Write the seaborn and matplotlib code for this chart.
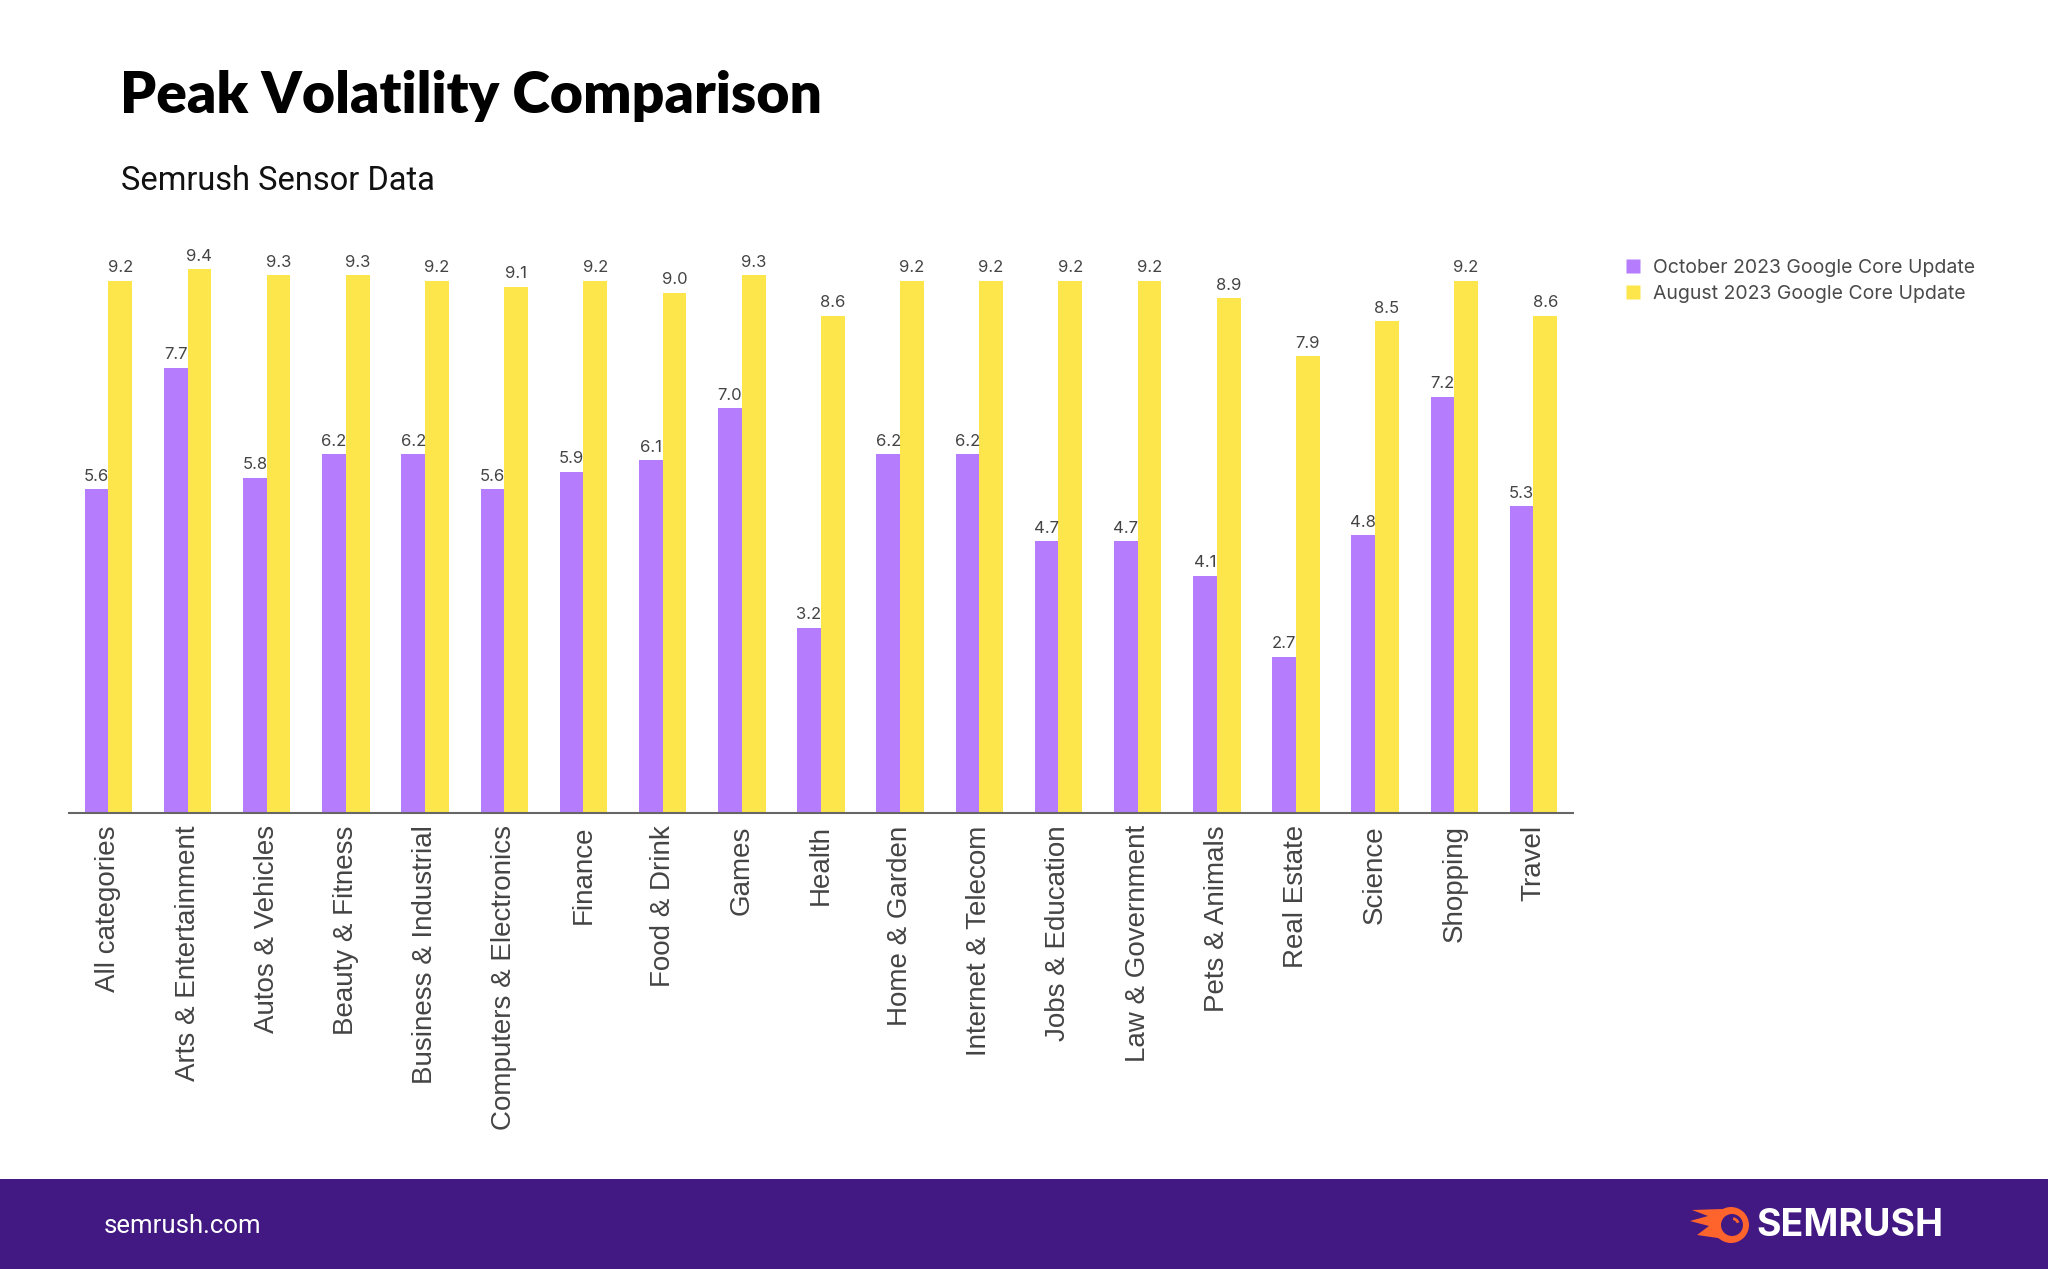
import matplotlib
matplotlib.use("Agg")
import matplotlib.pyplot as plt
from matplotlib.lines import Line2D
from matplotlib.patches import Rectangle, Circle, Polygon, Arc
from matplotlib.transforms import IdentityTransform
import seaborn as sns
import pandas as pd

# data
categories = ["All categories", "Arts & Entertainment", "Autos & Vehicles", "Beauty & Fitness",
              "Business & Industrial", "Computers & Electronics", "Finance", "Food & Drink",
              "Games", "Health", "Home & Garden", "Internet & Telecom", "Jobs & Education",
              "Law & Government", "Pets & Animals", "Real Estate", "Science", "Shopping", "Travel"]
october = [5.6, 7.7, 5.8, 6.2, 6.2, 5.6, 5.9, 6.1, 7.0, 3.2, 6.2, 6.2, 4.7, 4.7, 4.1, 2.7, 4.8, 7.2, 5.3]
august = [9.2, 9.4, 9.3, 9.3, 9.2, 9.1, 9.2, 9.0, 9.3, 8.6, 9.2, 9.2, 9.2, 9.2, 8.9, 7.9, 8.5, 9.2, 8.6]
series_names = ["October 2023 Google Core Update", "August 2023 Google Core Update"]

PURPLE = "#B57CFD"
YELLOW = "#FDE64B"
FOOTER = "#421983"
ORANGE = "#FF642D"

df = pd.DataFrame({
    "category": categories * 2,
    "value": october + august,
    "series": [series_names[0]] * len(categories) + [series_names[1]] * len(categories),
})

sns.set_style("white")
plt.rcParams["font.family"] = ["Inter", "DejaVu Sans"]

fig = plt.figure(figsize=(20.48, 12.69), dpi=100)
ax = fig.add_axes([0.0336, 0.3595, 0.7345, 0.4555])

sns.barplot(data=df, x="category", y="value", hue="series",
            palette=[PURPLE, YELLOW], width=0.6, gap=0, saturation=1,
            edgecolor="none", linewidth=0, legend=False, ax=ax)

for cont in ax.containers:
    ax.bar_label(cont, fmt="%.1f", padding=4, fontsize=12, color="#444444")

ax.set_ylim(0, 10)
ax.set_xlim(-0.5, len(categories) - 0.5)
ax.set_xlabel("")
ax.set_ylabel("")
ax.set_yticks([])
for s in ["top", "right", "left"]:
    ax.spines[s].set_visible(False)
ax.spines["bottom"].set_color("#666666")
ax.spines["bottom"].set_linewidth(1.5)
ax.tick_params(axis="x", length=0, pad=9)
ax.set_xticks(range(len(categories)))
ax.set_xticklabels(categories, rotation=90, fontsize=20, color="#444444",
                   family=["Liberation Sans", "DejaVu Sans"], va="top")

# legend
handles = [Line2D([0], [0], marker="s", linestyle="none", markersize=9.5,
                  markerfacecolor=c, markeredgecolor="none") for c in [PURPLE, YELLOW]]
fig.legend(handles, series_names, loc="upper left", bbox_to_anchor=(0.789, 0.802),
           frameon=False, fontsize=14, labelcolor="#4a4a4a", handletextpad=0.5,
           labelspacing=0.4, borderaxespad=0, handlelength=1.0)

# titles
fig.text(0.0585, 0.911, "Peak Volatility Comparison", fontsize=41, fontweight="heavy",
         family=["Lato", "DejaVu Sans"], color="#000000", va="baseline")
fig.text(0.0590, 0.850, "Semrush Sensor Data", fontsize=23.5,
         family=["Roboto", "DejaVu Sans"], color="#111111", va="baseline")

# footer band
fig.patches.append(Rectangle((0, 0), 1, 90 / 1269, transform=fig.transFigure,
                             facecolor=FOOTER, edgecolor="none", zorder=0))
fig.text(0.0508, 0.0335, "semrush.com", fontsize=18.5, color="white",
         family=["Roboto", "DejaVu Sans"], va="center")
fig.text(0.8575, 0.0340, "SEMRUSH", fontsize=27, color="white", fontweight="bold",
         family=["Inter", "DejaVu Sans"], va="center")

# logo icon, in pixel coordinates
idt = IdentityTransform()
flame = Polygon([(1722, 60), (1692, 59), (1708, 53), (1690, 48), (1709, 43),
                 (1697, 34), (1718, 31), (1730, 27)],
                closed=True, transform=idt, facecolor=ORANGE, edgecolor="none", zorder=1)
fig.patches.append(flame)
fig.patches.append(Circle((1731, 44), 18, transform=idt, facecolor=ORANGE,
                          edgecolor="none", zorder=2))
fig.patches.append(Circle((1732, 44), 11, transform=idt, facecolor=FOOTER,
                          edgecolor="none", zorder=3))
fig.patches.append(Arc((1732, 44), 13, 13, theta1=20, theta2=80, transform=idt,
                       color=ORANGE, linewidth=2, zorder=4))

fig.savefig("out.png", dpi=100, facecolor="white")
